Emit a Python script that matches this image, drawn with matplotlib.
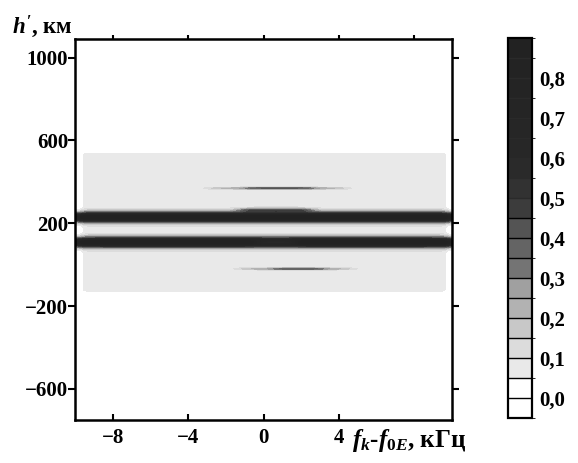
import numpy as np
import matplotlib
matplotlib.use("Agg")
import matplotlib.pyplot as plt
from matplotlib.colors import ListedColormap, BoundaryNorm

# Fonts: bold serif everywhere, bold italic for the math symbols
plt.rcParams["font.family"] = ["Liberation Serif", "DejaVu Serif"]
plt.rcParams["font.weight"] = "bold"
plt.rcParams["mathtext.fontset"] = "custom"
plt.rcParams["mathtext.it"] = "Liberation Serif:italic:bold"
plt.rcParams["mathtext.rm"] = "Liberation Serif:bold"
plt.rcParams["mathtext.bf"] = "Liberation Serif:bold"

# Echo bands: height (km), thickness (km), amplitude, frequency span (kHz)
band_h = [229, 108, 262, 108, 369, 369, -20, -20]
band_sigma = [16, 16, 7, 6, 3, 3, 3, 3]
band_peak = [0.88, 0.88, 0.30, -0.38, 0.14, 0.20, 0.14, 0.18]
band_f0 = [-10.5, -10.5, -1.2, -0.3, -2.8, -0.9, -1.2, 0.5]
band_f1 = [10.5, 10.5, 2.5, 1.6, 4.3, 2.6, 4.6, 3.2]

# Weak background level in the sounding window
plateau_value = 0.075
plateau_h = (-130, 540)
plateau_f = (-9.6, 9.7)

# Colour scale
levels = np.arange(-0.05, 0.9001, 0.05)
cell_colors = ["#ffffff", "#ffffff", "#e9e9e9", "#dcdcdc", "#c8c8c8",
               "#b2b2b2", "#a0a0a0", "#747474", "#646464", "#545454",
               "#3c3c3c", "#323232", "#2a2a2a", "#272727", "#262626",
               "#252525", "#242424", "#232323", "#222222"]
cbar_ticks = [0.0, 0.1, 0.2, 0.3, 0.4, 0.5, 0.6, 0.7, 0.8]
cbar_labels = ["0,0", "0,1", "0,2", "0,3", "0,4", "0,5", "0,6", "0,7", "0,8"]

xticks = [-8, -4, 0, 4]
xticks_top = [-8, -4, 0, 4, 8]
yticks = [1000, 600, 200, -200, -600]


def smooth_box(x, a, b, e):
    return 0.5 * (np.tanh((x - a) / e) - np.tanh((x - b) / e))


f = np.linspace(-10, 10, 500)
h = np.linspace(-750, 1090, 900)
F, H = np.meshgrid(f, h)

Z = plateau_value * smooth_box(F, plateau_f[0], plateau_f[1], 0.15) \
    * smooth_box(H, plateau_h[0], plateau_h[1], 6)
for hc, s, p, fa, fb in zip(band_h, band_sigma, band_peak, band_f0, band_f1):
    Z += p * np.exp(-0.5 * ((H - hc) / s) ** 2) * smooth_box(F, fa, fb, 0.5)
Z = np.clip(Z, 0, 0.899)

cmap = ListedColormap(cell_colors)
norm = BoundaryNorm(levels, cmap.N)

fig = plt.figure(figsize=(5.78, 4.63), dpi=100)
ax = fig.add_axes([0.1298, 0.0929, 0.6522, 0.8229])
cs = ax.contourf(F, H, Z, levels=levels, cmap=cmap, norm=norm)

ax.set_xlim(-10, 10)
ax.set_ylim(-750, 1090)
ax.set_xticks(xticks)
ax.set_xticklabels([str(t).replace("-", "\u2212") for t in xticks])
ax.set_yticks(yticks)
ax.set_yticklabels([str(t).replace("-", "\u2212") for t in yticks])
ax.tick_params(axis="x", direction="in", length=4, width=1.5, labelsize=15, pad=6)
ax.tick_params(axis="y", direction="out", length=5, width=1.5, labelsize=15, pad=0,
               right=True)
for sp in ax.spines.values():
    sp.set_linewidth(1.8)

top = ax.secondary_xaxis("top")
top.set_xticks(xticks_top)
top.set_xticklabels([])
top.tick_params(direction="out", length=3, width=1.5)

fig.text(12 / 578, 1 - 27 / 463, r"$h'$, км", fontsize=16.5, va="center", ha="left")
fig.text(352 / 578, 1 - 441 / 463, r"$f_k$-$f_{0E}$, кГц", fontsize=18,
         va="center", ha="left")

cax = fig.add_axes([508 / 578, 1 - 418 / 463, 24 / 578, 380 / 463])
cb = fig.colorbar(cs, cax=cax, ticks=cbar_ticks, drawedges=True)
cb.ax.set_yticklabels(cbar_labels)
cb.ax.tick_params(length=0, labelsize=15, pad=5)
cb.outline.set_linewidth(1.6)
# cell borders show only on the lighter part of the scale
inner = levels[1:-1]
cb.dividers.set_linewidth(1.0)
cb.dividers.set_colors(["black" if v < 0.5 else cell_colors[12] for v in inner])

fig.savefig("out.png", dpi=100)
